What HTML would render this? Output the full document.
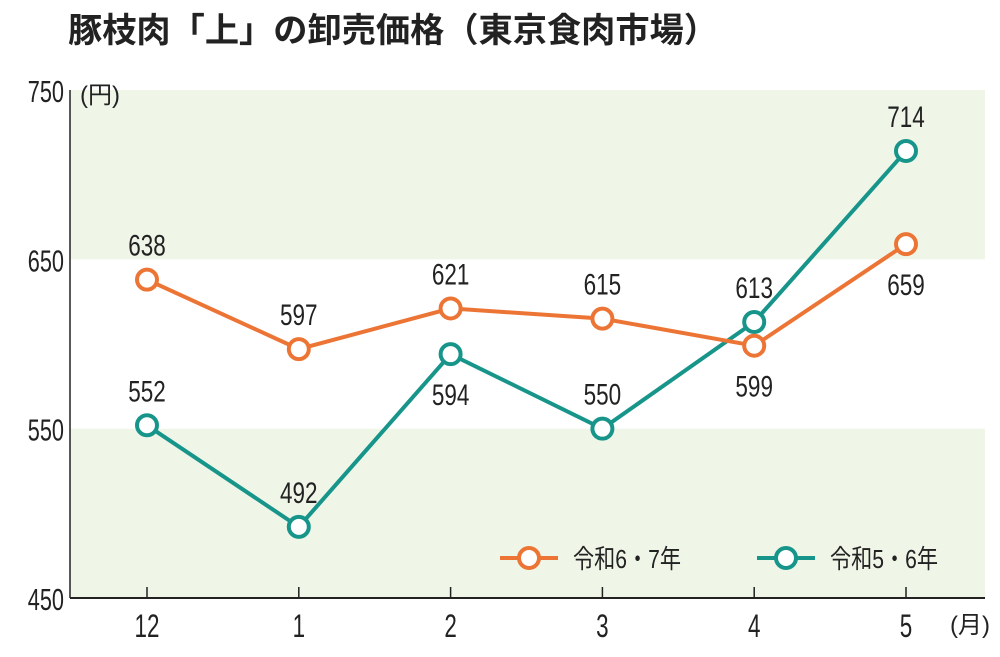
<!DOCTYPE html>
<html><head><meta charset="utf-8"><style>
body{margin:0;background:#fff;width:1000px;height:652px;overflow:hidden}
text{font-family:"Liberation Sans","Noto Sans CJK JP",sans-serif}
</style></head><body>
<svg id="chart" width="1000" height="652" viewBox="0 0 1000 652" xmlns="http://www.w3.org/2000/svg">
<text x="68" y="42" font-size="34" font-weight="bold" fill="#222" textLength="650" lengthAdjust="spacingAndGlyphs">豚枝肉「上」の卸売価格（東京食肉市場）</text>
<g id="bands"></g>
<g id="axes"></g>
<g id="series"></g>
<g id="legend"></g>
</svg>
<script>
const categories = ["12","1","2","3","4","5"];
const seriesNew = [638,597,621,615,599,659];
const seriesOld = [552,492,594,550,613,714];
const yTicks = [450,550,650,750];
const newLabelAbove = [true,true,true,true,false,false];
const oldLabelAbove = [true,true,false,true,true,true];

const NS="http://www.w3.org/2000/svg";
const X0=70,X1=985,Y0=598,Y1=90,VMIN=450,VMAX=750;
const xPos=i=>147+i*151.8;
const yPos=v=>Y0-(v-VMIN)/(VMAX-VMIN)*(Y0-Y1);
function mk(tag,attrs,parent){const e=document.createElementNS(NS,tag);for(const k in attrs)e.setAttribute(k,attrs[k]);parent.appendChild(e);return e;}
const bands=document.getElementById('bands'),axes=document.getElementById('axes'),ser=document.getElementById('series'),leg=document.getElementById('legend');

for(let i=0;i<yTicks.length-1;i+=2){
  const r=mk('rect',{x:X0,y:yPos(yTicks[i+1]),width:X1-X0,height:yPos(yTicks[i])-yPos(yTicks[i+1]),fill:'#eff6e8'},bands);
  
  
}
const ya=mk('line',{x1:X0,y1:Y1,x2:X0,y2:Y0,stroke:'#222','stroke-width':1.5},axes);


const xa=mk('line',{x1:X0,y1:Y0,x2:X1,y2:Y0,stroke:'#222','stroke-width':2},axes);


yTicks.forEach(v=>{
  const t=mk('text',{x:64,y:yPos(v)+12,'font-size':31,'text-anchor':'end',fill:'#222',transform:`translate(64,0) scale(0.7,1) translate(-64,0)`},axes);
  t.textContent=v;
  
  
});
const yu=mk('text',{x:80,y:103,'font-size':24,fill:'#222'},axes);yu.textContent='(円)';


categories.forEach((c,i)=>{
  const x=xPos(i);
  const tk=mk('line',{x1:x,y1:Y0-11,x2:x,y2:Y0,stroke:'#222','stroke-width':1.5},axes);
  
  
  const t=mk('text',{x:x,y:637,'font-size':32,'text-anchor':'middle',fill:'#222',transform:`translate(${x},0) scale(0.7,1) translate(${-x},0)`},axes);
  t.textContent=c;
  
  
});
const xu=mk('text',{x:950,y:633,'font-size':24,fill:'#222'},axes);xu.textContent='(月)';



function drawSeries(vals,above,color,name){
  const g=mk('g',{},ser);
  
  
  const pl=mk('polyline',{points:vals.map((v,i)=>xPos(i)+','+yPos(v)).join(' '),fill:'none',stroke:color,'stroke-width':4},g);
  
  
  vals.forEach((v,i)=>{
    const c=mk('circle',{cx:xPos(i),cy:yPos(v),r:10,fill:'#fff',stroke:color,'stroke-width':4},g);
    
    
    const ty=above[i]?yPos(v)-24:yPos(v)+51;
    const t=mk('text',{x:xPos(i),y:ty,'font-size':30,'text-anchor':'middle',fill:'#222',transform:`translate(${xPos(i)},0) scale(0.75,1) translate(${-xPos(i)},0)`},g);
    t.textContent=v;
    
    
  });
}
drawSeries(seriesOld,oldLabelAbove,'#17958a','series-r5-6');
drawSeries(seriesNew,newLabelAbove,'#ec7535','series-r6-7');

[['#ec7535','令和6・7年',500],['#17958a','令和5・6年',757]].forEach(([col,lab,x],k)=>{
  const l=mk('line',{x1:x,y1:558,x2:x+58,y2:558,stroke:col,'stroke-width':4},leg);
  
  
  const c=mk('circle',{cx:x+29,cy:558,r:10,fill:'#fff',stroke:col,'stroke-width':4},leg);
  
  
  const t=mk('text',{x:x+73,y:568,'font-size':26,fill:'#222',textLength:108,lengthAdjust:'spacingAndGlyphs'},leg);
  t.textContent=lab;
  
  
});
</script>
</body></html>
